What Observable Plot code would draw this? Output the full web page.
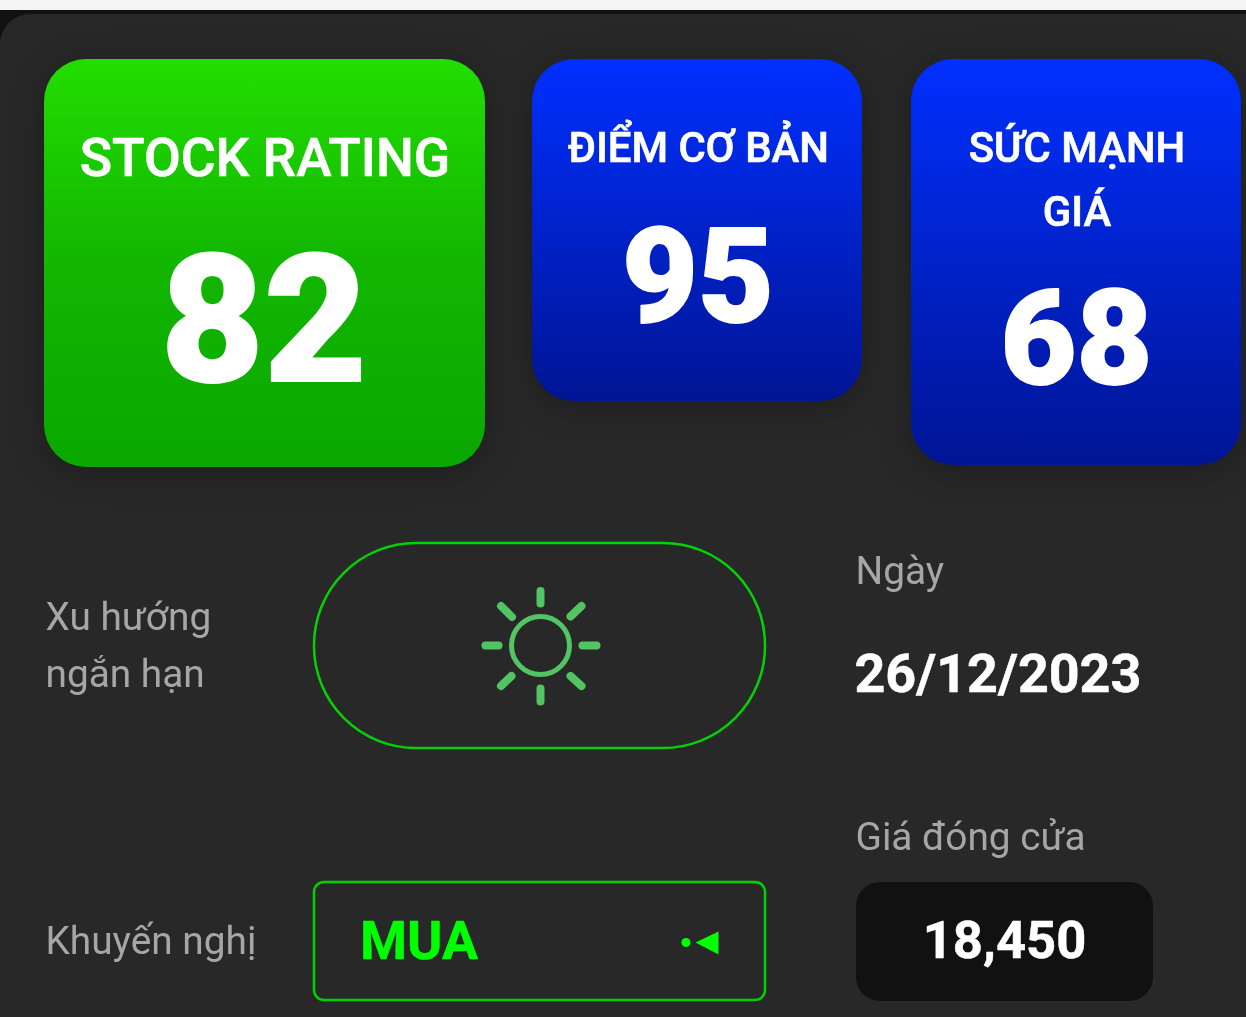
<!DOCTYPE html>
<html>
<head>
<meta charset="utf-8">
<script src="https://cdn.jsdelivr.net/npm/d3@7"></script>
<script src="https://cdn.jsdelivr.net/npm/@observablehq/plot@0.6"></script>
<style>
html,body{margin:0;padding:0;background:#f5f5f5;overflow:hidden}
svg{display:block}
</style>
</head>
<body>
<div id="chart"></div>
<script>
// Values
const cardTitles = ["STOCK RATING", "ĐIỂM CƠ BẢN", "SỨC MẠNH", "GIÁ"];
const cardScores = [82, 95, 68];
const trendLabel = ["Xu hướng", "ngắn hạn"];
const adviceLabel = "Khuyến nghị";
const adviceValue = "MUA";
const dateLabel = "Ngày";
const dateValue = "26/12/2023";
const priceLabel = "Giá đóng cửa";
const priceValue = 18450;

// Page layout, in picture pixels
const W = 1246, H = 1017;
const cardBoxes = [
  {x1: 44, x2: 485, y1: 59, y2: 467, fill: "url(#green)"},
  {x1: 532, x2: 862, y1: 59, y2: 401, fill: "url(#blue)"},
  {x1: 911, x2: 1241, y1: 59, y2: 465, fill: "url(#blue)"}
];
const titleAt = [[264.5, 158, 53.4], [698, 148, 41.8], [1076.5, 148, 41.8], [1076.5, 212, 41.8]];
const scoreAt = [[263.5, 324, 178], [697.5, 280, 131], [1076, 342, 131]];
const rays = [
  [540, 590.5, 540, 603], [540, 688, 540, 701],
  [485, 645, 498, 645], [582, 645, 596, 645],
  [500.5, 605.5, 511.5, 616.5], [581, 605.5, 570, 616],
  [500.5, 685.5, 511, 675.5], [581, 685.5, 570, 675.5]
];
const mark = [[695, 942], [718, 931], [718, 954], [695, 942]];

const sans = "Roboto, sans-serif";
const bars = (fill, opts) => Plot.rect([0], {x1: opts.x1, x2: opts.x2, y1: opts.y1, y2: opts.y2, fill, stroke: opts.stroke ?? "none", strokeWidth: opts.strokeWidth, rx: opts.rx});
const label = (text, x, y, size, fill, weight, anchor = "start", thick = 0) =>
  Plot.text([text], {text: d => d, x: () => x, y: () => y, fontSize: size, fill, fontWeight: weight, textAnchor: anchor, lineAnchor: "middle", fontFamily: sans, stroke: thick ? fill : "none", strokeWidth: thick});

const defs = () => {
  const s = d3.create("svg:defs");
  const g = (id, stops) => {
    const l = s.append("linearGradient").attr("id", id).attr("x1", 0).attr("x2", 0).attr("y1", 0).attr("y2", 1);
    stops.forEach(([o, c]) => l.append("stop").attr("offset", o).attr("stop-color", c));
  };
  g("green", [["0%", "#22de00"], ["50%", "#12b600"], ["100%", "#0aa800"]]);
  g("blue", [["0%", "#0030ff"], ["100%", "#001494"]]);
  return s.node();
};

const chart = Plot.plot({
  width: W, height: H, margin: 0,
  x: {domain: [0, W], range: [0, W], axis: null},
  y: {domain: [0, H], range: [0, H], axis: null},
  style: {background: "#f5f5f5", fontFamily: sans, filter: "blur(0.55px)"},
  marks: [
    defs,
    bars("#111111", {x1: 0, x2: W, y1: 10, y2: H + 20}),
    bars("#282828", {x1: 0, x2: W + 60, y1: 14, y2: H + 60, rx: 30}),
    Plot.rect(cardBoxes, {x1: "x1", x2: "x2", y1: "y1", y2: "y2", fill: "fill", rx: 42, imageFilter: "drop-shadow(0 5px 16px rgba(0,0,0,.28))"}),
    Plot.text(cardTitles, {text: d => d, x: (d, i) => titleAt[i][0], y: (d, i) => titleAt[i][1], fontSize: (d, i) => titleAt[i][2], fill: "white", stroke: "white", strokeWidth: 0.7, fontWeight: 500, textAnchor: "middle", lineAnchor: "middle", fontFamily: sans}),
    Plot.text(cardScores, {text: d => String(d), x: (d, i) => scoreAt[i][0], y: (d, i) => scoreAt[i][1], fontSize: (d, i) => scoreAt[i][2], fill: "white", stroke: "white", strokeWidth: 1.8, fontWeight: 900, textAnchor: "middle", lineAnchor: "middle", fontFamily: sans}),
    label(trendLabel[0], 45, 617, 38.8, "#a6a6a6", 400),
    label(trendLabel[1], 45, 674, 38.8, "#a6a6a6", 400),
    label(adviceLabel, 45, 941, 38.8, "#a6a6a6", 400),
    bars("none", {x1: 314, x2: 765, y1: 543, y2: 748, rx: 102, stroke: "#06d006", strokeWidth: 2.5}),
    Plot.dot([0], {x: () => 540, y: () => 645, r: 29, stroke: "#52c463", strokeWidth: 5, fill: "none"}),
    Plot.link(rays, {x1: d => d[0], y1: d => d[1], x2: d => d[2], y2: d => d[3], stroke: "#52c463", strokeWidth: 8, strokeLinecap: "round"}),
    bars("none", {x1: 314, x2: 765, y1: 882, y2: 1000, rx: 10, stroke: "#02d002", strokeWidth: 2.5}),
    label(adviceValue, 359.5, 941, 53.8, "#00ff00", 700, "start", 0.5),
    Plot.dot([0], {x: () => 685.5, y: () => 942, r: 4.5, fill: "#00ff00"}),
    Plot.line(mark, {x: d => d[0], y: d => d[1], fill: "#00ff00", stroke: "none"}),
    label(dateLabel, 855, 571, 38.8, "#a6a6a6", 400),
    label(dateValue, 854, 674, 53.8, "#ffffff", 700, "start", 0.5),
    label(priceLabel, 855, 837, 38.8, "#a6a6a6", 400),
    bars("#111111", {x1: 856, x2: 1153, y1: 882, y2: 1001, rx: 24}),
    label(d3.format(",")(priceValue), 1004, 941, 52.5, "#ffffff", 700, "middle", 0.5)
  ]
});
document.getElementById("chart").append(chart);
</script>
</body>
</html>
